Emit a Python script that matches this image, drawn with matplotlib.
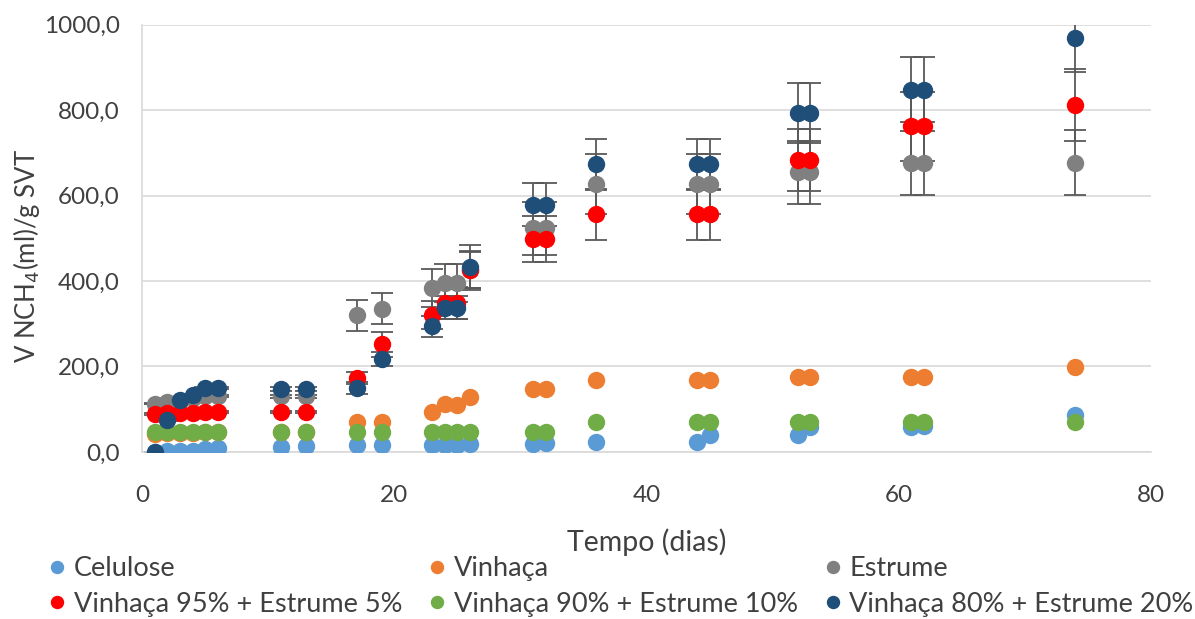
import matplotlib.pyplot as plt
from matplotlib.ticker import FuncFormatter

plt.rcParams['font.family'] = ['Lato', 'DejaVu Sans']

dias = [1, 2, 3, 4, 5, 6, 11, 13, 17, 19, 23, 24, 25, 26, 31, 32, 36, 44, 45, 52, 53, 61, 62, 74]

celulose = [0, 3, 2, 3, 6, 8, 12, 14, 16, 16, 16, 16, 17, 18, 19, 21, 22, 22, 40, 40, 58, 58, 60, 87]
vinhaca = [42, 44, 45, 45, 46, 46, 46, 46, 69, 69, 94, 111, 110, 129, 148, 148, 168, 168, 168, 175, 175, 175, 175, 199]
estrume = [113, 116, 120, 125, 130, 130, 130, 130, 320, 335, 384, 396, 396, 425, 524, 524, 627, 627, 627, 655, 655, 677, 677, 677]
v95_e5 = [89, 91, 91, 92, 93, 93, 93, 93, 174, 252, 320, 348, 348, 426, 499, 499, 556, 556, 556, 683, 683, 762, 762, 812]
v90_e10 = [46, 47, 47, 47, 47, 47, 47, 47, 47, 47, 47, 47, 47, 47, 47, 47, 70, 70, 70, 71, 71, 71, 71, 70]
v80_e20 = [0, 75, 121, 134, 149, 149, 147, 147, 149, 217, 294, 338, 338, 434, 579, 579, 673, 673, 673, 793, 793, 848, 848, 970]

# desvios (so nas misturas com estrume)
err_estrume = [2, 2, 2, 2, 2, 2, 4, 4, 36, 36, 45, 45, 45, 45, 62, 62, 71, 71, 71, 74, 74, 75, 75, 76]
err_v95 = [2, 2, 2, 2, 2, 2, 3, 3, 14, 29, 33, 37, 37, 42, 54, 54, 59, 59, 59, 72, 72, 80, 80, 85]
err_v80 = [0, 2, 2, 2, 2, 2, 4, 4, 14, 17, 25, 27, 27, 50, 50, 50, 60, 60, 60, 70, 70, 76, 76, 80]

labels = ["Celulose", "Vinhaça", "Estrume",
          "Vinhaça 95% + Estrume 5%", "Vinhaça 90% + Estrume 10%", "Vinhaça 80% + Estrume 20%"]
cores = ["#5B9BD5", "#ED7D31", "#808080", "#FF0000", "#70AD47", "#1F4E79"]
series = [celulose, vinhaca, estrume, v95_e5, v90_e10, v80_e20]
erros = [None, None, err_estrume, err_v95, None, err_v80]

texto = "#404040"

fig = plt.figure(figsize=(11.95, 6.19), dpi=100)
ax = fig.add_axes([0.119, 0.270, 0.844, 0.690])

handles = {}
for lab, cor, y, e in zip(labels, cores, series, erros):
    if e is not None:
        ax.errorbar(dias, y, yerr=e, fmt="none", ecolor="#595959",
                    elinewidth=1.3, capsize=8, capthick=1.3, zorder=2)
for lab, cor, y in zip(labels, cores, series):
    h, = ax.plot(dias, y, "o", color=cor, markersize=11.5, linestyle="none",
                 zorder=3, label=lab)
    handles[lab] = h

ax.set_xlim(0, 80)
ax.set_ylim(0, 1000)
ax.set_xticks([0, 20, 40, 60, 80])
ax.set_yticks([0, 200, 400, 600, 800, 1000])
ax.yaxis.set_major_formatter(FuncFormatter(lambda v, p: f"{v:.1f}".replace(".", ",")))
ax.tick_params(length=0, labelsize=17.5, labelcolor=texto)
ax.tick_params(axis="y", pad=16)
ax.tick_params(axis="x", pad=24)
ax.grid(axis="y", color="#D9D9D9", linewidth=1.2)
ax.set_axisbelow(True)
for s in ["top", "right"]:
    ax.spines[s].set_visible(False)
for s in ["left", "bottom"]:
    ax.spines[s].set_color("#D9D9D9")
    ax.spines[s].set_linewidth(1.2)

ax.set_xlabel("Tempo (dias)", fontsize=20.5, labelpad=16, color=texto)
ax.set_ylabel("V NCH$_4$(ml)/g SVT", fontsize=18.5, color=texto)
ax.yaxis.set_label_coords(-0.099, 0.459)

ordem = [labels[0], labels[3], labels[1], labels[4], labels[2], labels[5]]
leg = fig.legend([handles[l] for l in ordem], ordem, loc="lower center",
                 bbox_to_anchor=(0.52, -0.036), ncol=3, frameon=False,
                 fontsize=19.5, markerscale=0.75, handlelength=0.6,
                 handletextpad=0.3, columnspacing=1.0, labelspacing=0.4,
                 labelcolor=texto)

fig.savefig("out.png", dpi=100)
